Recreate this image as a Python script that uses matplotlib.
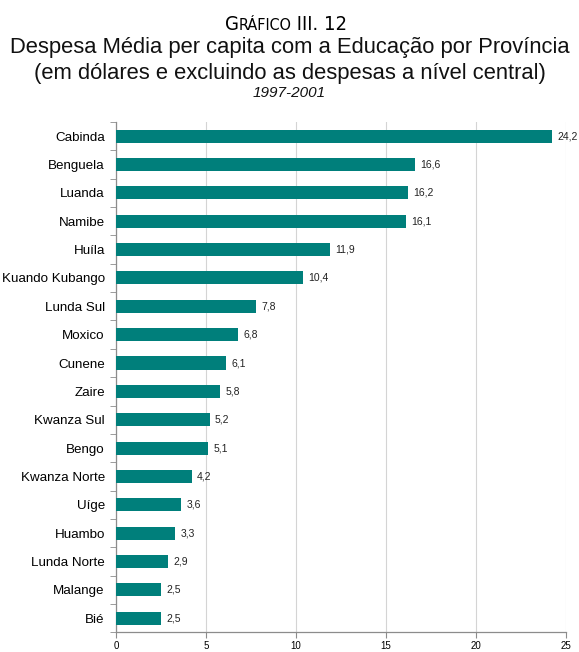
import matplotlib.pyplot as plt

plt.rcParams['font.family'] = ['Liberation Sans', 'DejaVu Sans']

provincias = ['Cabinda', 'Benguela', 'Luanda', 'Namibe', 'Huíla', 'Kuando Kubango',
              'Lunda Sul', 'Moxico', 'Cunene', 'Zaire', 'Kwanza Sul', 'Bengo',
              'Kwanza Norte', 'Uíge', 'Huambo', 'Lunda Norte', 'Malange', 'Bié']
despesa = [24.2, 16.6, 16.2, 16.1, 11.9, 10.4, 7.8, 6.8, 6.1, 5.8, 5.2, 5.1,
           4.2, 3.6, 3.3, 2.9, 2.5, 2.5]
x_ticks = [0, 5, 10, 15, 20, 25]

bar_color = '#007F7B'
axis_color = '#8C8C8C'

fig = plt.figure(figsize=(5.79, 6.52), dpi=100)
ax = fig.add_axes([0.2003, 0.030, 0.7772, 0.783])

pos = list(range(len(provincias)))
ax.barh(pos, despesa, height=0.46, color=bar_color, zorder=3)
for p, v in zip(pos, despesa):
    ax.text(v + 0.3, p, f'{v:.1f}'.replace('.', ','), va='center', ha='left',
            fontsize=7.5, color='#222222', zorder=4)

ax.set_ylim(len(provincias) - 0.5, -0.5)
ax.set_xlim(0, 25)
ax.set_xticks(x_ticks)
ax.set_xticklabels([str(t) for t in x_ticks], fontsize=7)
ax.set_yticks(pos)
ax.set_yticklabels(provincias, fontsize=9.6)
ax.tick_params(axis='y', length=0, pad=8)
ax.set_yticks([p + 0.5 for p in [-1] + pos], minor=True)
ax.tick_params(axis='y', which='minor', length=4, color=axis_color)
ax.tick_params(axis='x', length=4, color=axis_color, pad=2)

ax.grid(axis='x', color='#D4D4D4', linewidth=0.8, zorder=0)
for s in ['top', 'right']:
    ax.spines[s].set_visible(False)
for s in ['left', 'bottom']:
    ax.spines[s].set_color(axis_color)
    ax.spines[s].set_linewidth(0.9)

# small-caps heading built from pieces, condensed face
head_font = dict(family=['DejaVu Sans'], stretch='condensed')
pieces = [('G', 14.5), ('RÁFICO', 11.5), (' III. 12', 14.5)]
fig.canvas.draw()
renderer = fig.canvas.get_renderer()
widths = []
texts = []
for s, size in pieces:
    t = fig.text(0, 0, s, fontsize=size, va='baseline', ha='left',
                 color='#000000', **head_font)
    texts.append(t)
    widths.append(t.get_window_extent(renderer).width)
total = sum(widths)
x0 = 286 - total / 2
for t, w in zip(texts, widths):
    t.set_position((x0 / 579, 1 - 30 / 652))
    x0 += w

fig.text(0.5, 1 - 47 / 652, 'Despesa Média per capita com a Educação por Província',
         ha='center', va='center', fontsize=15.8, color='#111111')
fig.text(0.5, 1 - 73 / 652, '(em dólares e excluindo as despesas a nível central)',
         ha='center', va='center', fontsize=15.8, color='#111111')
fig.text(0.5, 1 - 93 / 652, '1997-2001', ha='center', va='center',
         fontsize=11, style='italic', color='#111111')

fig.savefig('out.png', dpi=100)
